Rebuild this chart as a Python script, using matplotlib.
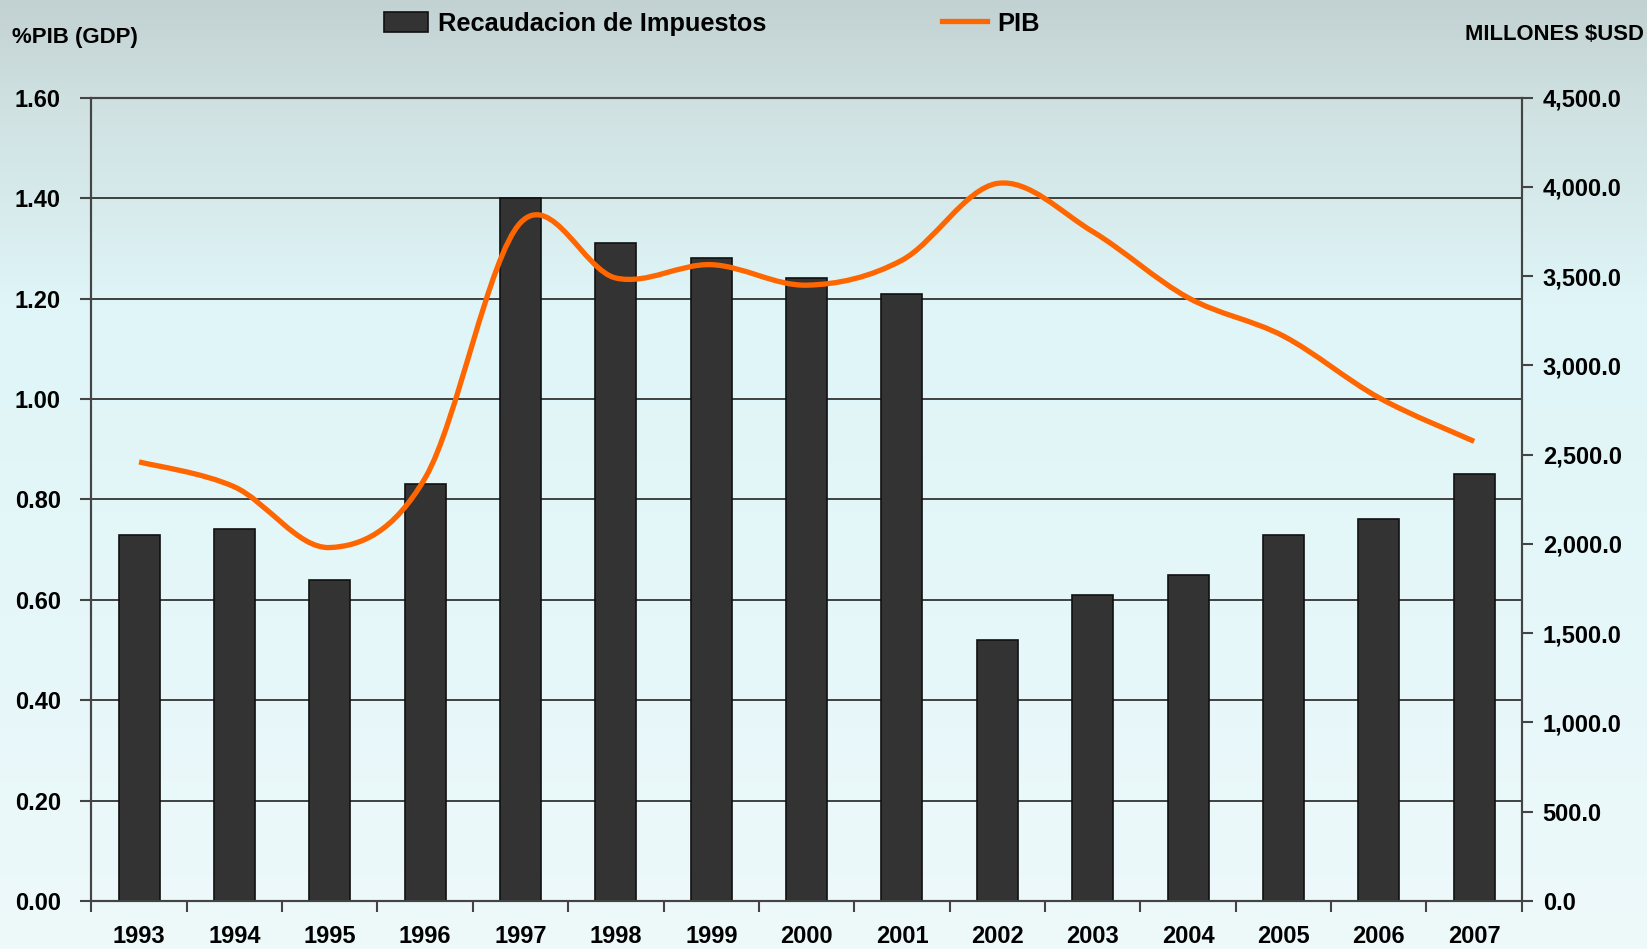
import numpy as np
import matplotlib.pyplot as plt
from matplotlib.colors import LinearSegmentedColormap
from matplotlib.path import Path
from matplotlib.patches import PathPatch, Patch
from matplotlib.lines import Line2D
from matplotlib.ticker import FuncFormatter

plt.rcParams['font.family'] = ['Liberation Sans', 'DejaVu Sans']
plt.rcParams['font.weight'] = 'bold'

years = ['1993', '1994', '1995', '1996', '1997', '1998', '1999', '2000',
         '2001', '2002', '2003', '2004', '2005', '2006', '2007']
recaudacion = [0.73, 0.74, 0.64, 0.83, 1.40, 1.31, 1.28, 1.24, 1.21,
               0.52, 0.61, 0.65, 0.73, 0.76, 0.85]
pib = [2460, 2320, 1980, 2370, 3800, 3490, 3565, 3450, 3590,
       4020, 3750, 3380, 3165, 2820, 2575]

fig = plt.figure(figsize=(16.47, 9.49), dpi=100)

# background gradient
bg = fig.add_axes([0, 0, 1, 1], zorder=-10)
grad = LinearSegmentedColormap.from_list(
    'bg', [(0.0, '#eef9fa'), (0.35, '#e5f7f9'), (0.68, '#dff5f7'),
           (0.9, '#cfe0e0'), (1.0, '#c2d2d2')])
bg.imshow(np.linspace(0, 1, 256).reshape(-1, 1), aspect='auto', cmap=grad,
          origin='lower', extent=[0, 1, 0, 1])
bg.axis('off')

ax = fig.add_axes([0.0555, 0.0506, 0.8685, 0.8464])
ax.set_facecolor('none')
x = np.arange(len(years))
ax.bar(x, recaudacion, width=0.43, color='#333333', edgecolor='#111111',
       linewidth=1.2, zorder=3)
ax.set_xlim(-0.5, len(years) - 0.5)
ax.set_ylim(0, 1.6)
ax.set_yticks(np.arange(0, 1.61, 0.2))
ax.yaxis.set_major_formatter(FuncFormatter(lambda v, p: f'{v:.2f}'))
ax.grid(axis='y', color='#333333', linewidth=1.3, zorder=1)
ax.set_axisbelow(True)
ax.set_xticks(np.arange(-0.5, len(years), 1))
ax.set_xticklabels([])
ax.set_xticks(x, minor=True)
ax.set_xticklabels(years, minor=True)
ax.tick_params(axis='x', which='minor', length=0, pad=17, labelsize=17)
ax.tick_params(axis='x', which='major', length=8, width=1.5, color='#444444')
ax.tick_params(axis='y', length=8, width=1.5, color='#444444', pad=14, labelsize=17)
for s in ax.spines.values():
    s.set_color('#444444')
    s.set_linewidth(1.5)

ax2 = ax.twinx()
ax2.set_ylim(0, 4500)
ax2.set_yticks(np.arange(0, 4501, 500))
ax2.yaxis.set_major_formatter(FuncFormatter(lambda v, p: f'{v:,.1f}'))
ax2.tick_params(axis='y', length=8, width=1.5, color='#444444', pad=7, labelsize=17)
for s in ax2.spines.values():
    s.set_color('#444444')
    s.set_linewidth(1.5)

# smooth line through yearly points (Catmull-Rom as cubic Bezier)
px = np.array(x, dtype=float)
py = np.array(pib, dtype=float)
verts = [(px[0], py[0])]
codes = [Path.MOVETO]
n = len(px)
for i in range(n - 1):
    p0 = (px[max(i - 1, 0)], py[max(i - 1, 0)])
    p1 = (px[i], py[i])
    p2 = (px[i + 1], py[i + 1])
    p3 = (px[min(i + 2, n - 1)], py[min(i + 2, n - 1)])
    c1 = (p1[0] + (p2[0] - p0[0]) / 6, p1[1] + (p2[1] - p0[1]) / 6)
    c2 = (p2[0] - (p3[0] - p1[0]) / 6, p2[1] - (p3[1] - p1[1]) / 6)
    verts += [c1, c2, p2]
    codes += [Path.CURVE4] * 3
ax2.add_patch(PathPatch(Path(verts, codes), facecolor='none',
                        edgecolor='#ff6600', linewidth=3.8, zorder=4))

fig.text(0.007, 0.960, '%PIB (GDP)', fontsize=16, ha='left', va='center')
fig.text(0.998, 0.964, 'MILLONES $USD', fontsize=15.8, ha='right', va='center')

handles = [Patch(facecolor='#333333', edgecolor='#111111', linewidth=1.2),
           Line2D([], [], color='#ff6600', linewidth=3.8)]
fig.legend(handles, ['Recaudacion de Impuestos', 'PIB'], ncol=2,
           loc='center', bbox_to_anchor=(0.432, 0.975), frameon=False,
           prop={'weight': 'bold', 'size': 18.3},
           columnspacing=6.9, handlelength=1.75, handleheight=0.8,
           handletextpad=0.4)

fig.savefig('out.png', dpi=100)
